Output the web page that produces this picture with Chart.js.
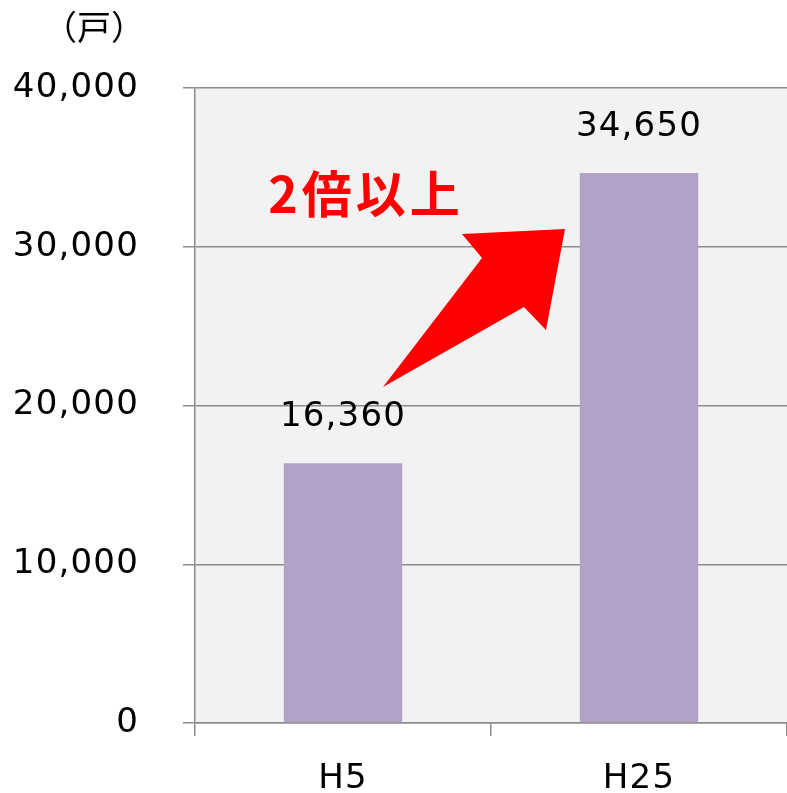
<!DOCTYPE html>
<html lang="ja">
<head>
<meta charset="utf-8">
<script src="https://cdn.jsdelivr.net/npm/chart.js@4/dist/chart.umd.min.js"></script>
<style>
  html, body { margin: 0; padding: 0; background: #ffffff; }
  #wrap { position: relative; width: 787px; height: 793px; }
  canvas { display: block; }
</style>
</head>
<body>
<div id="wrap"><canvas id="c" width="787" height="793"></canvas></div>
<script>
// Households (戸) by survey year
const categories = ['H5', 'H25'];
const households = [16360, 34650];
const yTicks = [0, 10000, 20000, 30000, 40000];
const unitLabel = '（戸）';
const noteLabel = '2倍以上';

const LATIN = "'DejaVu Sans', Verdana, sans-serif";
const CJK = "'Noto Sans CJK JP', sans-serif";
const AXIS_GRAY = '#8c8c8c';
const fmt = v => v.toLocaleString('en-US');

// Shaded plot area; also widens the letter spacing used for all labels
const plotBackground = {
  id: 'plotBackground',
  beforeDraw(chart) {
    const { ctx, chartArea: a } = chart;
    ctx.letterSpacing = '1.2px';
    ctx.save();
    ctx.fillStyle = '#f2f2f2';
    ctx.fillRect(a.left, a.top, a.right - a.left, a.bottom - a.top);
    ctx.restore();
  }
};

// Value labels above each bar
const valueLabels = {
  id: 'valueLabels',
  afterDatasetsDraw(chart) {
    const { ctx } = chart;
    const meta = chart.getDatasetMeta(0);
    ctx.save();
    ctx.font = '34px ' + LATIN;
    ctx.letterSpacing = '1.2px';
    ctx.fillStyle = '#000000';
    ctx.textAlign = 'center';
    ctx.textBaseline = 'alphabetic';
    meta.data.forEach((bar, i) => {
      ctx.fillText(fmt(chart.data.datasets[0].data[i]), bar.x, bar.y - 37);
    });
    ctx.restore();
  }
};

// Unit caption, red arrow and note (positions relative to the plot area)
const decorations = {
  id: 'decorations',
  afterDraw(chart) {
    const { ctx, chartArea: a } = chart;
    const w = a.right - a.left, h = a.bottom - a.top;
    const P = (fx, fy) => [a.left + fx * w, a.top + fy * h];
    ctx.save();

    ctx.letterSpacing = '0px';
    ctx.font = '34px ' + CJK;
    ctx.fillStyle = '#000000';
    ctx.textAlign = 'center';
    ctx.textBaseline = 'middle';
    ctx.fillText(unitLabel, 94, 27);

    const pts = [
      P(0.3176, 0.4709),
      P(0.4848, 0.2677),
      P(0.4510, 0.2299),
      P(0.6250, 0.2220),
      P(0.5929, 0.3811),
      P(0.5557, 0.3449)
    ];
    ctx.beginPath();
    ctx.moveTo(pts[0][0], pts[0][1]);
    for (let i = 1; i < pts.length; i++) ctx.lineTo(pts[i][0], pts[i][1]);
    ctx.closePath();
    ctx.fillStyle = '#ff0000';
    ctx.fill();

    const t = P(0.2855, 0.1669);
    ctx.font = 'bold 50px ' + CJK;
    ctx.letterSpacing = '4px';
    ctx.fillStyle = '#ff0000';
    ctx.textAlign = 'center';
    ctx.textBaseline = 'middle';
    ctx.fillText(noteLabel, t[0] + 2, t[1]);

    ctx.restore();
  }
};

new Chart(document.getElementById('c'), {
  type: 'bar',
  data: {
    labels: categories,
    datasets: [{
      data: households,
      backgroundColor: '#b3a2c7',
      borderWidth: 0,
      barPercentage: 0.4,
      categoryPercentage: 1.0
    }]
  },
  options: {
    responsive: false,
    animation: false,
    devicePixelRatio: 1,
    layout: { padding: { top: 88, right: 0, bottom: 0, left: 0 } },
    plugins: {
      legend: { display: false },
      tooltip: { enabled: false },
      title: { display: false }
    },
    scales: {
      x: {
        offset: true,
        grid: {
          display: true,
          offset: true,
          drawOnChartArea: false,
          drawTicks: true,
          tickLength: 13,
          color: AXIS_GRAY,
          lineWidth: 1.5
        },
        border: { display: true, color: AXIS_GRAY, width: 1.5 },
        ticks: {
          color: '#000000',
          font: { family: LATIN, size: 34 },
          padding: 23
        },
        afterFit(scale) { scale.height = 70; }
      },
      y: {
        min: 0,
        max: 40000,
        afterBuildTicks(scale) { scale.ticks = yTicks.map(v => ({ value: v })); },
        grid: {
          color: AXIS_GRAY,
          lineWidth: 1.5,
          drawTicks: true,
          tickLength: 12
        },
        border: { display: true, color: AXIS_GRAY, width: 1.5 },
        ticks: {
          color: '#000000',
          font: { family: LATIN, size: 34 },
          padding: 44,
          callback: v => fmt(v)
        },
        afterFit(scale) { scale.width = 195; }
      }
    }
  },
  plugins: [plotBackground, valueLabels, decorations]
});
</script>
</body>
</html>
